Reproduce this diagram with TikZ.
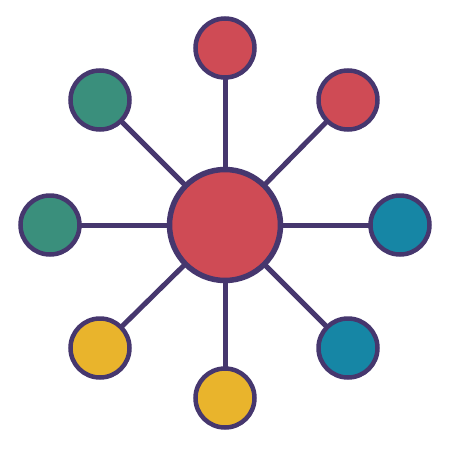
\documentclass[tikz,border=0pt]{standalone}
\usetikzlibrary{shadows}
\pgfdeclarelayer{background}
\pgfsetlayers{background,main}
\begin{document}
\begin{tikzpicture}[x=1pt,y=-1pt,
  deep/.style={drop shadow={shadow xshift=1.2pt,shadow yshift=-1.5pt,fill=ringd,opacity=1}},
  ring/.style={circle,draw=ringc,line width=4.5pt,inner sep=0pt,minimum size=59pt,deep},
  hub/.style={circle,draw=ringc,line width=5.5pt,inner sep=0pt,minimum size=111pt,fill=redc,deep},
  spoke/.style={draw=ringc,line width=5pt}]
\definecolor{ringc}{HTML}{46376E}
\definecolor{ringd}{HTML}{34284F}
\definecolor{redc}{HTML}{CF4B55}
\definecolor{tealc}{HTML}{3A8F7C}
\definecolor{bluec}{HTML}{1686A5}
\definecolor{yelc}{HTML}{E9B42C}
\useasboundingbox (0,0) rectangle (450,450);
\node[hub] (c) at (225,225) {};
\node[ring,fill=redc] (n1) at (225,48) {};
\node[ring,fill=redc] (n2) at (348,100) {};
\node[ring,fill=bluec] (n3) at (400,225) {};
\node[ring,fill=bluec] (n4) at (348,348) {};
\node[ring,fill=yelc] (n5) at (225,398) {};
\node[ring,fill=yelc] (n6) at (100,348) {};
\node[ring,fill=tealc] (n7) at (50,225) {};
\node[ring,fill=tealc] (n8) at (100,100) {};
\begin{pgfonlayer}{background}
\foreach \n in {n1,n2,n3,n4,n5,n6,n7,n8}{
  \path[spoke] (c.center) -- (\n.center);
}
\end{pgfonlayer}
\end{tikzpicture}
\end{document}
